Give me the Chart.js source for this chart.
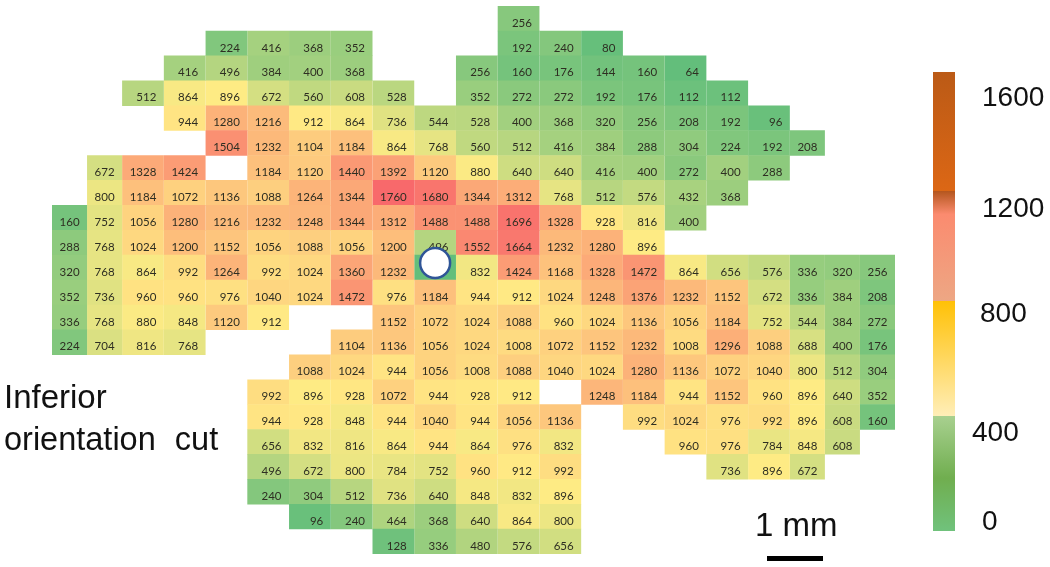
<!DOCTYPE html>
<html>
<head>
<meta charset="utf-8">
<script src="https://cdn.jsdelivr.net/npm/chart.js@4"></script>
<style>
  html, body { margin: 0; padding: 0; background: #fff; }
  #wrap { position: relative; width: 1050px; height: 567px; overflow: hidden; font-family: "Liberation Sans", sans-serif; color: #111; }
  #map { position: absolute; left: 0; top: 0; }
  #bar { position: absolute; left: 920px; top: 60px; }
  .note { position: absolute; white-space: pre; line-height: 1; }
  #scale { position: absolute; left: 767px; top: 556px; width: 56px; height: 5px; background: #000; }
</style>
</head>
<body>
<div id="wrap">
  <canvas id="map" width="1050" height="567"></canvas>
  <canvas id="bar" width="130" height="490"></canvas>
  <div class="note" style="left:4px;top:380px;font-size:33px">Inferior</div>
  <div class="note" style="left:4px;top:423px;font-size:32.5px;word-spacing:10px">orientation cut</div>
  <div class="note" style="left:755px;top:508px;font-size:33px">1 mm</div>
  <div id="scale"></div>
</div>
<script>
const _ = null;

// Cell values, top row first, one slot per column. 0 = cell under the fovea marker, value not readable
const row00 = [_, _, _, _, _, _, _, _, _, _, _, 256, _, _, _, _, _, _, _, _, _];
const row01 = [_, _, _, _, 224, 416, 368, 352, _, _, _, 192, 240, 80, _, _, _, _, _, _, _];
const row02 = [_, _, _, 416, 496, 384, 400, 368, _, _, 256, 160, 176, 144, 160, 64, _, _, _, _, _];
const row03 = [_, _, 512, 864, 896, 672, 560, 608, 528, _, 352, 272, 272, 192, 176, 112, 112, _, _, _, _];
const row04 = [_, _, _, 944, 1280, 1216, 912, 864, 736, 544, 528, 400, 368, 320, 256, 208, 192, 96, _, _, _];
const row05 = [_, _, _, _, 1504, 1232, 1104, 1184, 864, 768, 560, 512, 416, 384, 288, 304, 224, 192, 208, _, _];
const row06 = [_, 672, 1328, 1424, _, 1184, 1120, 1440, 1392, 1120, 880, 640, 640, 416, 400, 272, 400, 288, _, _, _];
const row07 = [_, 800, 1184, 1072, 1136, 1088, 1264, 1344, 1760, 1680, 1344, 1312, 768, 512, 576, 432, 368, _, _, _, _];
const row08 = [160, 752, 1056, 1280, 1216, 1232, 1248, 1344, 1312, 1488, 1488, 1696, 1328, 928, 816, 400, _, _, _, _, _];
const row09 = [288, 768, 1024, 1200, 1152, 1056, 1088, 1056, 1200, 496, 1552, 1664, 1232, 1280, 896, _, _, _, _, _, _];
const row10 = [320, 768, 864, 992, 1264, 992, 1024, 1360, 1232, 0, 832, 1424, 1168, 1328, 1472, 864, 656, 576, 336, 320, 256];
const row11 = [352, 736, 960, 960, 976, 1040, 1024, 1472, 976, 1184, 944, 912, 1024, 1248, 1376, 1232, 1152, 672, 336, 384, 208];
const row12 = [336, 768, 880, 848, 1120, 912, _, _, 1152, 1072, 1024, 1088, 960, 1024, 1136, 1056, 1184, 752, 544, 384, 272];
const row13 = [224, 704, 816, 768, _, _, _, 1104, 1136, 1056, 1024, 1008, 1072, 1152, 1232, 1008, 1296, 1088, 688, 400, 176];
const row14 = [_, _, _, _, _, _, 1088, 1024, 944, 1056, 1008, 1088, 1040, 1024, 1280, 1136, 1072, 1040, 800, 512, 304];
const row15 = [_, _, _, _, _, 992, 896, 928, 1072, 944, 928, 912, _, 1248, 1184, 944, 1152, 960, 896, 640, 352];
const row16 = [_, _, _, _, _, 944, 928, 848, 944, 1040, 944, 1056, 1136, _, 992, 1024, 976, 992, 896, 608, 160];
const row17 = [_, _, _, _, _, 656, 832, 816, 864, 944, 864, 976, 832, _, _, 960, 976, 784, 848, 608, _];
const row18 = [_, _, _, _, _, 496, 672, 800, 784, 752, 960, 912, 992, _, _, _, 736, 896, 672, _, _];
const row19 = [_, _, _, _, _, 240, 304, 512, 736, 640, 848, 832, 896, _, _, _, _, _, _, _, _];
const row20 = [_, _, _, _, _, _, 96, 240, 464, 368, 640, 864, 800, _, _, _, _, _, _, _, _];
const row21 = [_, _, _, _, _, _, _, _, 128, 336, 480, 576, 656, _, _, _, _, _, _, _, _];
const rows = [row00, row01, row02, row03, row04, row05, row06, row07, row08, row09, row10,
  row11, row12, row13, row14, row15, row16, row17, row18, row19, row20, row21];

// Colour bar labels and where they sit along the bar (0 = bottom, 1 = top)
const barLabels = ['1600', '1200', '800', '400', '0'];
const barLabelPos = [0.942, 0.700, 0.473, 0.213, 0.019];

// Outer columns are narrower than the others
const columnWidths = [0.84, 0.84, 1, 1, 1, 1, 1, 1, 1, 1, 1, 1, 1, 1, 1, 1, 1, 1, 0.84, 0.84, 0.84];
const columnEdges = [0];
columnWidths.forEach((w, i) => columnEdges.push(columnEdges[i] + w));

// 3 colour scale, green - yellow - red
const LOW = 64, MID = 900, HIGH = 1760;
const lerp = (a, b, t) => a.map((v, i) => Math.round(v + (b[i] - v) * t));
const cellColor = (v) => {
  const c = v <= MID
    ? lerp([99, 190, 123], [255, 235, 132], Math.max(0, (v - LOW) / (MID - LOW)))
    : lerp([255, 235, 132], [248, 105, 107], Math.min(1, (v - MID) / (HIGH - MID)));
  return `rgb(${c.join(',')})`;
};

// One bar dataset per column, each cell is a floating horizontal bar
const cellDatasets = columnWidths.map((w, c) => ({
  data: rows
    .map((r, i) => (r[c] == null ? null : { x: [columnEdges[c], columnEdges[c + 1]], y: i + 0.5, value: r[c] }))
    .filter(Boolean),
  backgroundColor: (ctx) => (ctx.raw ? cellColor(ctx.raw.value) : '#fff'),
  borderWidth: 0,
  grouped: false,
  categoryPercentage: 1,
  barPercentage: 1.02,
  order: 1
}));

// Marker over the fovea, sits on column 9
const foveaDataset = {
  type: 'scatter',
  data: [{ x: columnEdges[9] + columnWidths[9] / 2, y: 10.32 }],
  pointRadius: 15,
  pointHoverRadius: 15,
  borderWidth: 2.5,
  borderColor: '#2f5597',
  backgroundColor: '#fff',
  order: 0
};

// Value labels, right aligned in the cell and a bit under the middle
const cellLabels = {
  id: 'cellLabels',
  afterDatasetDraw(chart, args) {
    const ds = chart.data.datasets[args.index];
    if (ds.type === 'scatter') return;
    const { ctx } = chart;
    ctx.save();
    ctx.font = '11.5px Lato';
    ctx.fillStyle = '#2e2e22';
    ctx.textAlign = 'right';
    ctx.textBaseline = 'middle';
    args.meta.data.forEach((el, i) => {
      const v = ds.data[i].value;
      if (v) ctx.fillText(String(v), el.x - 7.5, el.y + 4.5);
    });
    ctx.restore();
  }
};

new Chart(document.getElementById('map'), {
  type: 'bar',
  data: { datasets: [...cellDatasets, foveaDataset] },
  options: {
    indexAxis: 'y',
    responsive: false,
    animation: false,
    layout: { autoPadding: false, padding: { left: 52, right: 155, top: 6, bottom: 13 } },
    plugins: { legend: { display: false }, tooltip: { enabled: false } },
    scales: {
      x: { type: 'linear', display: false, min: 0, max: columnEdges[columnEdges.length - 1] },
      y: { type: 'linear', display: false, offset: false, min: 0, max: rows.length, reverse: true }
    }
  },
  plugins: [cellLabels]
});

// Colour bar gradient, bottom to top
const barGradient = (chart) => {
  const { ctx, chartArea: a } = chart;
  if (!a) return '#fff';
  const g = ctx.createLinearGradient(0, a.bottom, 0, a.top);
  g.addColorStop(0, '#70c27c');
  g.addColorStop(0.115, '#70ae4f');
  g.addColorStop(0.25, '#a8d08f');
  g.addColorStop(0.2501, '#ffeeb8');
  g.addColorStop(0.5, '#ffc107');
  g.addColorStop(0.5001, '#eda784');
  g.addColorStop(0.69, '#fb8b6f');
  g.addColorStop(0.74, '#b5571f');
  g.addColorStop(0.7401, '#dc6715');
  g.addColorStop(1, '#bb5a16');
  return g;
};

const barLabelLeft = [62, 62, 60, 52, 62];
const barTicks = {
  id: 'barTicks',
  afterDraw(chart) {
    const { ctx, scales } = chart;
    ctx.save();
    ctx.font = '28px "Liberation Sans"';
    ctx.fillStyle = '#111';
    ctx.textAlign = 'left';
    ctx.textBaseline = 'middle';
    barLabels.forEach((t, i) => ctx.fillText(t, barLabelLeft[i], scales.y.getPixelForValue(barLabelPos[i])));
    ctx.restore();
  }
};

new Chart(document.getElementById('bar'), {
  type: 'bar',
  data: {
    labels: [''],
    datasets: [{
      data: [[0, 1]],
      backgroundColor: (ctx) => barGradient(ctx.chart),
      borderWidth: 0,
      categoryPercentage: 1,
      barPercentage: 1
    }]
  },
  options: {
    responsive: false,
    animation: false,
    layout: { padding: { left: 13, right: 95, top: 12, bottom: 19 } },
    plugins: { legend: { display: false }, tooltip: { enabled: false } },
    scales: {
      x: { display: false },
      y: { display: false, min: 0, max: 1 }
    }
  },
  plugins: [barTicks]
});
</script>
</body>
</html>
